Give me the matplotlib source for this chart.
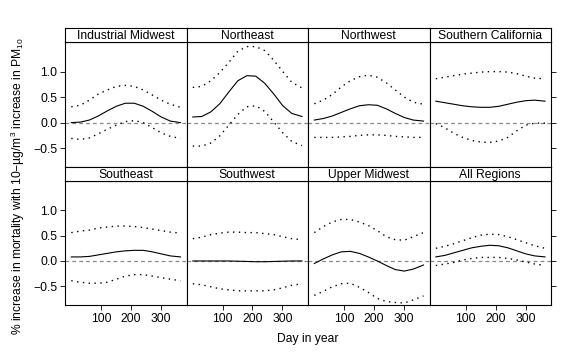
import matplotlib
matplotlib.use('Agg')
import matplotlib.pyplot as plt

plt.rcParams['font.family'] = ['Liberation Sans', 'DejaVu Sans']
plt.rcParams['mathtext.fontset'] = 'custom'
plt.rcParams['mathtext.rm'] = 'Liberation Sans'
plt.rcParams['mathtext.it'] = 'Liberation Sans:italic'
plt.rcParams['axes.unicode_minus'] = True

# day of year where the curves were read
days = [1, 31, 61, 91, 121, 151, 181, 211, 241, 271, 301, 331, 365]

regions = ['Industrial Midwest', 'Northeast', 'Northwest', 'Southern California',
           'Southeast', 'Southwest', 'Upper Midwest', 'All Regions']

# estimate, lower and upper bounds (% increase per 10 ug/m3)
ind_mw_est = [0.00, 0.01, 0.05, 0.13, 0.23, 0.32, 0.38, 0.38, 0.32, 0.22, 0.11, 0.03, 0.00]
ind_mw_lo = [-0.31, -0.33, -0.30, -0.22, -0.13, -0.05, 0.02, 0.04, 0.00, -0.10, -0.20, -0.27, -0.31]
ind_mw_hi = [0.31, 0.34, 0.44, 0.56, 0.64, 0.71, 0.73, 0.71, 0.64, 0.54, 0.44, 0.36, 0.30]

ne_est = [0.11, 0.12, 0.21, 0.37, 0.60, 0.82, 0.92, 0.91, 0.77, 0.56, 0.33, 0.18, 0.12]
ne_lo = [-0.46, -0.46, -0.40, -0.26, -0.05, 0.16, 0.31, 0.33, 0.22, 0.01, -0.20, -0.37, -0.45]
ne_hi = [0.69, 0.71, 0.82, 0.98, 1.18, 1.40, 1.49, 1.49, 1.41, 1.22, 1.00, 0.79, 0.68]

nw_est = [0.05, 0.08, 0.13, 0.20, 0.27, 0.33, 0.35, 0.34, 0.27, 0.18, 0.10, 0.05, 0.03]
nw_lo = [-0.29, -0.29, -0.29, -0.28, -0.27, -0.25, -0.24, -0.24, -0.25, -0.27, -0.28, -0.29, -0.29]
nw_hi = [0.37, 0.44, 0.55, 0.70, 0.82, 0.90, 0.93, 0.89, 0.78, 0.64, 0.50, 0.40, 0.36]

sc_est = [0.42, 0.39, 0.36, 0.33, 0.31, 0.30, 0.30, 0.32, 0.36, 0.40, 0.43, 0.44, 0.42]
sc_lo = [-0.02, -0.10, -0.21, -0.29, -0.35, -0.38, -0.39, -0.36, -0.29, -0.16, -0.05, -0.01, -0.01]
sc_hi = [0.86, 0.89, 0.92, 0.95, 0.97, 0.99, 1.00, 1.00, 0.99, 0.96, 0.91, 0.87, 0.86]

se_est = [0.08, 0.08, 0.09, 0.12, 0.15, 0.18, 0.20, 0.21, 0.21, 0.18, 0.14, 0.10, 0.08]
se_lo = [-0.39, -0.42, -0.44, -0.44, -0.42, -0.36, -0.30, -0.27, -0.27, -0.30, -0.33, -0.36, -0.39]
se_hi = [0.56, 0.59, 0.61, 0.65, 0.67, 0.69, 0.69, 0.68, 0.66, 0.63, 0.60, 0.57, 0.55]

sw_est = [0.00, 0.00, 0.00, 0.00, 0.00, -0.005, -0.01, -0.015, -0.015, -0.01, -0.005, 0.00, 0.00]
sw_lo = [-0.45, -0.47, -0.51, -0.55, -0.57, -0.59, -0.59, -0.59, -0.59, -0.57, -0.53, -0.48, -0.45]
sw_hi = [0.44, 0.47, 0.52, 0.55, 0.57, 0.57, 0.56, 0.56, 0.54, 0.52, 0.48, 0.44, 0.42]

um_est = [-0.05, 0.04, 0.12, 0.18, 0.19, 0.15, 0.08, 0.00, -0.09, -0.17, -0.20, -0.16, -0.08]
um_lo = [-0.68, -0.60, -0.51, -0.45, -0.44, -0.52, -0.62, -0.74, -0.80, -0.82, -0.83, -0.77, -0.69]
um_hi = [0.56, 0.68, 0.77, 0.82, 0.82, 0.77, 0.70, 0.60, 0.48, 0.42, 0.41, 0.48, 0.56]

all_est = [0.08, 0.11, 0.16, 0.21, 0.26, 0.29, 0.31, 0.30, 0.26, 0.20, 0.14, 0.10, 0.08]
all_lo = [-0.09, -0.06, -0.03, 0.02, 0.05, 0.07, 0.07, 0.07, 0.05, 0.02, -0.02, -0.06, -0.09]
all_hi = [0.25, 0.29, 0.34, 0.40, 0.46, 0.51, 0.53, 0.52, 0.48, 0.42, 0.36, 0.30, 0.25]

curves = [
    (ind_mw_est, ind_mw_lo, ind_mw_hi),
    (ne_est, ne_lo, ne_hi),
    (nw_est, nw_lo, nw_hi),
    (sc_est, sc_lo, sc_hi),
    (se_est, se_lo, se_hi),
    (sw_est, sw_lo, sw_hi),
    (um_est, um_lo, um_hi),
    (all_est, all_lo, all_hi),
]

W, H = 575, 360
FS = 8.7
fig = plt.figure(figsize=(W / 100, H / 100), dpi=100)

# panel layout in pixels (lattice style, 4 x 2 with strips)
left0 = 65
pw = 121.5
strip_h = 14
rows = [(42, 167), (181, 305)]   # plot area top/bottom per row
lw_frame = 0.8

for k, name in enumerate(regions):
    r, c = divmod(k, 4)
    top, bot = rows[r]
    x0 = (left0 + c * pw) / W
    ax = fig.add_axes([x0, 1 - bot / H, pw / W, (bot - top) / H])
    sax = fig.add_axes([x0, 1 - top / H, pw / W, strip_h / H])

    # strip with region name
    sax.set_xticks([])
    sax.set_yticks([])
    for s in sax.spines.values():
        s.set_linewidth(lw_frame)
    sax.text(0.5, 0.45, name, ha='center', va='center', fontsize=FS,
             transform=sax.transAxes)

    est, lo, hi = curves[k]
    ax.axhline(0, color='#888888', lw=0.9, ls=(0, (3, 2.5)))
    ax.plot(days, est, color='black', lw=0.8)
    ax.plot(days, lo, color='black', lw=1.0, ls=(0, (1, 3.2)))
    ax.plot(days, hi, color='black', lw=1.0, ls=(0, (1, 3.2)))

    ax.set_xlim(-20, 385)
    ax.set_ylim(-0.87, 1.58)
    for s in ax.spines.values():
        s.set_linewidth(lw_frame)

    ax.set_xticks([100, 200, 300])
    ax.set_yticks([-0.5, 0.0, 0.5, 1.0])
    ax.tick_params(direction='out', length=3.5, width=0.6, labelsize=FS,
                   pad=2, color='black')
    ax.tick_params(axis='x', bottom=(r == 1), labelbottom=(r == 1))
    ax.tick_params(axis='y', left=(c == 0), labelleft=(c == 0),
                   right=(c == 3), labelright=False)
    if c == 0:
        ax.set_yticklabels(['\u22120.5', '0.0', '0.5', '1.0'])

fig.text(308 / W, 1 - 339 / H, 'Day in year', ha='center', va='center', fontsize=FS)
fig.text(18 / W, 1 - 186 / H,
         '% increase in mortality with 10\u2212\u00b5g/m$^{\\mathrm{3}}$ increase in PM$_{\\mathrm{10}}$',
         rotation=90, ha='center', va='center', fontsize=FS)

fig.savefig('out.png', dpi=100)
